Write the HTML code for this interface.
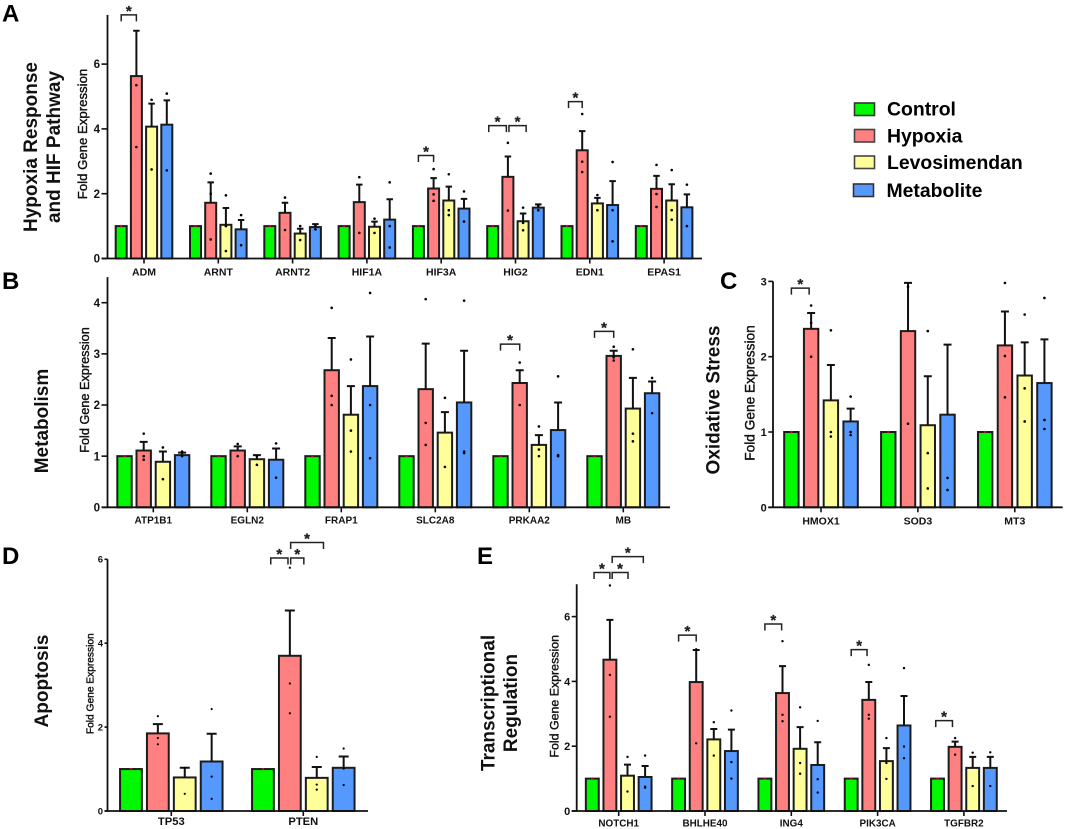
<!DOCTYPE html>
<html lang="en">
<head>
<meta charset="utf-8">
<title>Fold gene expression by pathway</title>
<style>
html,body{margin:0;padding:0;background:#fff;}
svg{display:block;font-family:"Liberation Sans",Arial,sans-serif;}
.letter{font-size:24px;font-weight:700;fill:#000;}
.theme{font-size:19px;font-weight:700;fill:#111;text-anchor:middle;}
.legend-text{font-size:19.4px;font-weight:700;fill:#000;}
</style>
</head>
<body>
<svg id="figure" width="1065" height="829" viewBox="0 0 1065 829" xmlns="http://www.w3.org/2000/svg">
  <rect x="0" y="0" width="1065" height="829" fill="#fff"/>
  <text class="letter" x="2" y="21.5">A</text>
  <text class="letter" x="2" y="289">B</text>
  <text class="letter" x="720" y="289">C</text>
  <text class="letter" x="2" y="564">D</text>
  <text class="letter" x="477" y="564">E</text>

  <text class="theme" transform="translate(37,147) rotate(-90)">Hypoxia Response</text>
  <text class="theme" transform="translate(60,147) rotate(-90)">and HIF Pathway</text>
  <text class="theme" transform="translate(48,421) rotate(-90)">Metabolism</text>
  <text class="theme" transform="translate(719.5,400) rotate(-90)">Oxidative Stress</text>
  <text class="theme" transform="translate(48,681) rotate(-90)">Apoptosis</text>
  <text class="theme" transform="translate(494.5,703) rotate(-90)">Transcriptional</text>
  <text class="theme" transform="translate(517,703) rotate(-90)">Regulation</text>

  <g>
    <g>
      <rect x="854.5" y="103" width="20" height="12.5" fill="#00f800" stroke="#333" stroke-width="1.6"/>
      <text class="legend-text" x="887" y="115.7">Control</text>
    </g>
    <g>
      <rect x="854.5" y="129.5" width="20" height="12.5" fill="#ff8080" stroke="#444" stroke-width="1.6"/>
      <text class="legend-text" x="887" y="142.3">Hypoxia</text>
    </g>
    <g>
      <rect x="854.5" y="156" width="20" height="12.5" fill="#ffff99" stroke="#444" stroke-width="1.6"/>
      <text class="legend-text" x="887" y="169">Levosimendan</text>
    </g>
    <g>
      <rect x="853.5" y="184" width="20" height="12.5" fill="#5599ff" stroke="#333" stroke-width="1.6"/>
      <text class="legend-text" x="886.5" y="197">Metabolite</text>
    </g>
  </g>
</svg>
<script>
const seriesNames = ['control','hypoxia','levosimendan','metabolite'];
const seriesColors = ['#00f800','#ff8080','#ffff99','#5599ff'];

/* ---------- Panel A ---------- */
const genesA = ['ADM','ARNT','ARNT2','HIF1A','HIF3A','HIG2','EDN1','EPAS1'];
const ticksA = [0,2,4,6];
const meansA = [[1,5.63,4.07,4.13],[1,1.72,1.04,0.90],[1,1.41,0.77,0.97],[1,1.74,0.98,1.20],[1,2.16,1.79,1.54],[1,2.52,1.15,1.57],[1,3.34,1.70,1.65],[1,2.15,1.79,1.58]];
const errTopsA = [[1,7.03,4.78,4.88],[1,2.35,1.56,1.19],[1,1.72,0.92,1.06],[1,2.28,1.14,1.83],[1,2.48,2.22,1.84],[1,3.15,1.39,1.67],[1,3.93,1.87,2.39],[1,2.55,2.29,1.98]];
const pointsA = [
  [[1],[5.35,3.44],[4.9,2.75],[5.09,2.72]],
  [[1],[2.62,2.0,0.59],[1.95,1.0,0.23],[1.34,0.41]],
  [[1],[1.88,0.88],[1.0,0.57],[1.03,0.9]],
  [[1],[2.51,0.79],[1.23,0.79],[2.35,1.0,0.34]],
  [[1],[2.76,1.98,1.78],[2.6,1.49,1.34],[2.07,1.14]],
  [[1],[3.57,1.48],[1.57,1.1,0.87],[1.63,1.49]],
  [[1],[4.46,2.99,2.67],[1.96,1.49],[2.98,1.49,0.53]],
  [[1],[2.89,1.99,1.59],[2.73,1.49,1.2],[2.28,1.0]]
];
const bracketsA = [[0,0,1,7.52],[4,0,1,3.18],[5,-0.26,0.9,4.1],[5,1.07,2.2,4.1],[6,0.1,1,4.84]];

/* ---------- Panel B ---------- */
const genesB = ['ATP1B1','EGLN2','FRAP1','SLC2A8','PRKAA2','MB'];
const ticksB = [0,1,2,3,4];
const meansB = [[1,1.11,0.89,1.02],[1,1.11,0.94,0.93],[1,2.68,1.81,2.37],[1,2.31,1.46,2.05],[1,2.43,1.22,1.51],[1,2.96,1.93,2.23]];
const errTopsB = [[1,1.28,1.09,1.07],[1,1.19,1.02,1.15],[1,3.31,2.37,3.34],[1,3.2,1.86,3.06],[1,2.68,1.41,2.05],[1,3.06,2.53,2.46]];
const pointsB = [
  [[1],[1.44,1.0,0.93],[1.17,0.55],[1.09,1.0]],
  [[1],[1.24,1.0],[1.0,0.83],[1.25,0.58]],
  [[1],[3.9,2.18,2.0],[2.89,1.5,1.09],[4.19,2.0,0.96]],
  [[1],[4.07,1.65,1.22],[2.14,0.79],[4.04,1.09,1.06]],
  [[1],[2.83,2.0],[1.58,1.13,1.0],[2.56,1.02,1.0]],
  [[1],[3.14,2.93,2.87],[3.09,1.44,1.29],[2.53,1.84]]
];
const bracketsB = [[4,0,1,3.19],[5,0,1,3.44]];

/* ---------- Panel C ---------- */
const genesC = ['HMOX1','SOD3','MT3'];
const ticksC = [0,1,2,3];
const meansC = [[1,2.37,1.42,1.14],[1,2.34,1.09,1.23],[1,2.15,1.75,1.65]];
const errTopsC = [[1,2.58,1.89,1.31],[1,2.98,1.74,2.16],[1,2.6,2.19,2.23]];
const pointsC = [
  [[1],[2.68,2.45,2.0],[2.35,1.0,0.94],[1.47,1.0,0.96]],
  [[1],[2.93,1.11],[2.34,0.72,0.25],[0.39,0.23]],
  [[1],[2.98,2.01,1.46],[2.56,1.58,1.14],[2.78,1.16,1.04]]
];
const bracketsC = [[0,0,0.9,2.91]];

/* ---------- Panel D ---------- */
const genesD = ['TP53','PTEN'];
const ticksD = [0,2,4,6];
const meansD = [[1,1.85,0.8,1.18],[1,3.7,0.79,1.03]];
const errTopsD = [[1,2.07,1.03,1.84],[1,4.78,1.05,1.3]];
const pointsD = [
  [[1],[2.26,1.74,1.59],[1.03,0.41],[2.43,0.82,0.29]],
  [[1],[5.8,3.04,2.33],[1.29,0.63,0.51],[1.49,1.01,0.62]]
];
const bracketsD = [[1,0.29,0.93,6.03],[1,1.03,1.52,6.03],[1,1.03,2.25,6.4]];

/* ---------- Panel E ---------- */
const genesE = ['NOTCH1','BHLHE40','ING4','PIK3CA','TGFBR2'];
const ticksE = [0,2,4,6];
const meansE = [[1,4.67,1.09,1.05],[1,3.98,2.21,1.85],[1,3.64,1.92,1.42],[1,3.43,1.54,2.64],[1,1.98,1.33,1.33]];
const errTopsE = [[1,5.9,1.43,1.39],[1,4.97,2.53,2.51],[1,4.47,2.59,2.12],[1,3.98,1.94,3.55],[1,2.14,1.67,1.67]];
const pointsE = [
  [[1],[6.96,4.2,2.91],[1.67,0.6],[1.71,0.75,0.72]],
  [[1],[4.99,2.09],[2.74,1.71],[3.1,1.51,1.0]],
  [[1],[5.24,2.97,2.77],[3.2,1.48,1.15],[2.78,0.98,0.57]],
  [[1],[4.51,2.97,2.85],[2.25,1.48,0.99],[4.41,1.99,1.63]],
  [[1],[2.25,1.74],[1.8,0.77],[1.81,0.77]]
];
const bracketsE = [[0,0.1,1,7.36],[0,1.13,2.03,7.36],[0,1.13,2.9,7.85],[1,0,1,5.43],[2,0,0.95,5.77],[3,0,0.9,4.98],[4,-0.1,0.85,2.79]];

const NS = 'http://www.w3.org/2000/svg';
const figure = document.getElementById('figure');

function mk(tag, attrs, parent, text) {
  const node = document.createElementNS(NS, tag);
  for (const k in attrs) node.setAttribute(k, attrs[k]);
  if (text !== undefined) node.textContent = text;
  parent.appendChild(node);
  return node;
}

function drawPanel(id, genes, ticks, means, errTops, points, brackets, layout) {
  const yAxis = v => layout.y0 - v * layout.unit;
  const xGroup = g => layout.x0 + g * layout.spacing;
  const xBar = (g, s) => xGroup(g) + (s - 1.5) * layout.step;

  const panel = mk('g', {}, figure);
  
  

  const title = mk('text', {
    transform: 'translate(' + layout.titleX + ',' + layout.titleY + ') rotate(-90)',
    'text-anchor': 'middle', 'font-size': layout.titleSize, fill: '#111', stroke: '#111', 'stroke-width': 0.4
  }, panel, 'Fold Gene Expression');
  
  

  // bars, whiskers, points
  genes.forEach((gene, g) => {
    seriesNames.forEach((name, s) => {
      const cx = xBar(g, s);
      const top = yAxis(means[g][s]);
      const bar = mk('rect', {
        x: cx - layout.barW / 2, y: top, width: layout.barW, height: layout.y0 - top,
        fill: seriesColors[s], stroke: '#1c1c1c', 'stroke-width': layout.barStroke
      }, panel);
      
      

      if (errTops[g][s] > means[g][s]) {
        const yTop = yAxis(errTops[g][s]);
        const whisker = mk('path', {
          d: 'M' + cx + ' ' + top + 'V' + yTop + 'M' + (cx - layout.cap / 2) + ' ' + yTop + 'H' + (cx + layout.cap / 2),
          fill: 'none', stroke: '#111', 'stroke-width': layout.barStroke
        }, panel);
        
        
      }

      points[g][s].forEach(v => {
        const dot = mk('circle', {
          cx: cx, cy: yAxis(v), r: s === 0 ? 1.2 : layout.dot, fill: s === 0 ? '#d00030' : '#000'
        }, panel);
        
        
      });
    });
  });

  // y axis
  const yLine = mk('line', {
    x1: layout.axisX, x2: layout.axisX, y1: yAxis(layout.yMax), y2: layout.y0,
    stroke: '#111', 'stroke-width': 1.8
  }, panel);
  
  

  ticks.forEach(t => {
    const tick = mk('line', {
      x1: layout.axisX - layout.tickLen, x2: layout.axisX, y1: yAxis(t), y2: yAxis(t),
      stroke: '#111', 'stroke-width': 1.6
    }, panel);
    
    

    const label = mk('text', {
      x: layout.axisX - layout.tickLen - 1.5, y: yAxis(t) + layout.tickFont * 0.36,
      'text-anchor': 'end', 'font-size': layout.tickFont, 'font-weight': 700, fill: '#111'
    }, panel, String(t));
    
    
  });

  // x axis
  const xLine = mk('line', {
    x1: layout.axisX - layout.tickLen, x2: layout.axisEnd, y1: layout.y0, y2: layout.y0,
    stroke: '#111', 'stroke-width': 1.8
  }, panel);
  
  

  genes.forEach((gene, g) => {
    const tick = mk('line', {
      x1: xGroup(g), x2: xGroup(g), y1: layout.y0, y2: layout.y0 + 5,
      stroke: '#111', 'stroke-width': 1.6
    }, panel);
    
    

    const label = mk('text', {
      x: xGroup(g), y: layout.labelY, 'text-anchor': 'middle',
      'font-size': layout.labelFont, 'font-weight': 700, fill: '#111'
    }, panel, gene);
    
    
  });

  // significance brackets
  brackets.forEach(b => {
    const xa = xBar(b[0], b[1]);
    const xb = xBar(b[0], b[2]);
    const yb = yAxis(b[3]);
    const bracket = mk('path', {
      d: 'M' + xa + ' ' + (yb + 6.5) + 'V' + yb + 'H' + xb + 'V' + (yb + 6.5),
      fill: 'none', stroke: '#222', 'stroke-width': 1.5
    }, panel);
    
    

    const star = mk('text', {
      x: (xa + xb) / 2, y: yb + 1, 'text-anchor': 'middle',
      'font-size': 15, 'font-weight': 700, fill: '#222', stroke: '#222', 'stroke-width': 0.3
    }, panel, '*');
    
    
  });
}

drawPanel('a', genesA, ticksA, meansA, errTopsA, pointsA, bracketsA, {
  y0: 258.5, unit: 32.4, yMax: 7.52, axisX: 107.5, axisEnd: 702, x0: 144, spacing: 74.3, step: 15.2,
  barW: 11, barStroke: 2, cap: 6.5, dot: 1.3, tickLen: 6, tickFont: 11.5, labelFont: 10.5, labelY: 275.3,
  titleX: 87, titleY: 134, titleSize: 13.2
});
drawPanel('b', genesB, ticksB, meansB, errTopsB, pointsB, bracketsB, {
  y0: 507.3, unit: 51.15, yMax: 4.5, axisX: 107.5, axisEnd: 670, x0: 153.3, spacing: 94, step: 19.2,
  barW: 14.4, barStroke: 2, cap: 8, dot: 1.3, tickLen: 6, tickFont: 11.5, labelFont: 10, labelY: 523.3,
  titleX: 89, titleY: 390, titleSize: 12.7
});
drawPanel('c', genesC, ticksC, meansC, errTopsC, pointsC, bracketsC, {
  y0: 507.3, unit: 75.3, yMax: 3, axisX: 773, axisEnd: 1062.7, x0: 821, spacing: 96.9, step: 19.75,
  barW: 14.4, barStroke: 2, cap: 8, dot: 1.3, tickLen: 4.7, tickFont: 11, labelFont: 10.5, labelY: 524.3,
  titleX: 754.5, titleY: 393, titleSize: 13.7
});
drawPanel('d', genesD, ticksD, meansD, errTopsD, pointsD, bracketsD, {
  y0: 811, unit: 41.95, yMax: 6, axisX: 107.5, axisEnd: 368, x0: 171.3, spacing: 132, step: 26.9,
  barW: 21.8, barStroke: 2, cap: 10, dot: 1.1, tickLen: 3, tickFont: 9.5, labelFont: 11.2, labelY: 825,
  titleX: 93.5, titleY: 683.7, titleSize: 10.2
});
drawPanel('e', genesE, ticksE, meansE, errTopsE, pointsE, bracketsE, {
  y0: 811, unit: 32.4, yMax: 7, axisX: 576.7, axisEnd: 1007, x0: 618.7, spacing: 86.3, step: 17.6,
  barW: 12.9, barStroke: 2, cap: 7, dot: 1.2, tickLen: 5, tickFont: 11, labelFont: 9.9, labelY: 826.5,
  titleX: 558.5, titleY: 696.3, titleSize: 12.4
});
</script>
</body>
</html>
